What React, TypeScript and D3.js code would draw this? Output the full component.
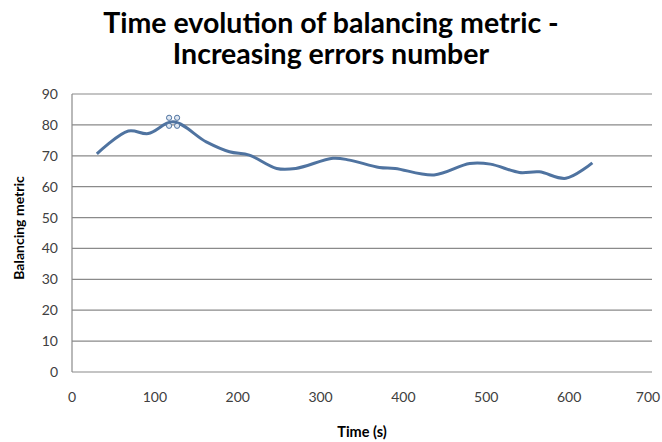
import React from "react";
import * as d3 from "d3";

const times = [30, 68, 92, 122, 162, 190, 214, 247, 270, 315, 335, 371, 390, 437, 480, 505, 540, 564, 596, 628];
const metric = [70.6, 78.0, 77.2, 81.0, 74.5, 71.3, 70.2, 65.9, 65.9, 69.2, 68.6, 66.2, 65.9, 63.8, 67.5, 67.3, 64.6, 64.8, 62.7, 67.7];
const xTicks = [0, 100, 200, 300, 400, 500, 600, 700];
const yTicks = [0, 10, 20, 30, 40, 50, 60, 70, 80, 90];
const markedTime = 122;
const markedValue = 81.0;
const titleLines = ["Time evolution of balancing metric -", "Increasing errors number"];

const W = 662, H = 442;
const left = 72, right = 652, top = 94, bottom = 372;
const font = "Lato, 'Open Sans', sans-serif";

export default function App() {
  const x = d3.scaleLinear().domain([0, 700]).range([left, right]);
  const y = d3.scaleLinear().domain([0, 90]).range([bottom, top]);
  const data = times.map((t, i) => [t, metric[i]] as [number, number]);
  const line = d3.line<[number, number]>().x(d => x(d[0])).y(d => y(d[1])).curve(d3.curveCatmullRom.alpha(0.5));
  const mx = x(markedTime), my = y(markedValue);
  return (
    <svg width={W} height={H} style={{ position: "absolute", left: 0, top: 0, background: "#fff" }}>
      {titleLines.map((t, i) => (
        <text key={t} x={W / 2} y={33 + i * 31} textAnchor="middle" fontFamily={font} fontWeight="bold" fontSize={28.5} fill="#000">{t}</text>
      ))}
      {yTicks.map(v => (
        <g key={v}>
          <line x1={left} x2={right} y1={y(v)} y2={y(v)} stroke="#8a8a8a" strokeWidth={1.2} />
          <text x={58} y={y(v) + 5} textAnchor="end" fontFamily={font} fontSize={14} fill="#404040">{v}</text>
        </g>
      ))}
      <line x1={left} x2={left} y1={top} y2={bottom} stroke="#8a8a8a" strokeWidth={1.2} />
      {xTicks.map(v => (
        <text key={v} x={v === 700 ? x(v) - 4 : x(v)} y={402} textAnchor="middle" fontFamily={font} fontSize={14} fill="#404040">{v}</text>
      ))}
      <path d={line(data) || ""} fill="none" stroke="#4f73a0" strokeWidth={3} strokeLinejoin="round" />
      {[[-4, -4], [4, -4], [-4, 4], [4, 4]].map(([dx, dy], i) => (
        <circle key={i} cx={mx + dx} cy={my + dy} r={2.6} fill="#dfe8f3" stroke="#4f73a0" strokeWidth={1} />
      ))}
      <text x={362} y={437} textAnchor="middle" fontFamily={font} fontWeight="bold" fontSize={14.5} fill="#000">Time (s)</text>
      <text transform={`translate(24,${(top + bottom) / 2 - 5}) rotate(-90)`} textAnchor="middle" fontFamily={font} fontWeight="bold" fontSize={14} fill="#000">Balancing metric</text>
    </svg>
  );
}
